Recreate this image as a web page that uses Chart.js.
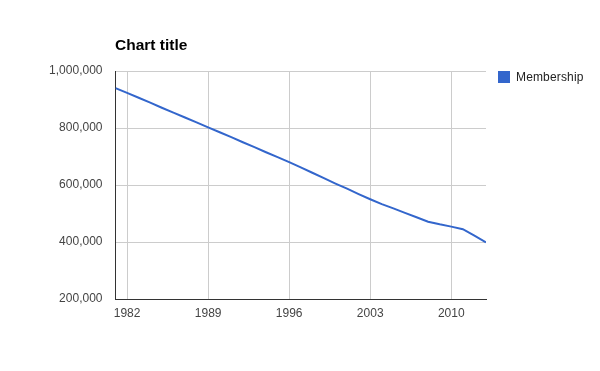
<!DOCTYPE html>
<html>
<head>
<meta charset="utf-8">
<script src="https://cdn.jsdelivr.net/npm/chart.js@4/dist/chart.umd.min.js"></script>
<style>
  body { margin: 0; background: #fff; }
  #wrap { position: relative; width: 600px; height: 371px; font-family: "Liberation Sans", Arial, sans-serif; }
  #title { position: absolute; left: 115px; top: 36px; font-size: 15.5px; font-weight: bold; color: #000; }
  #legend { position: absolute; left: 498px; top: 70px; font-size: 12px; color: #222; letter-spacing: 0.15px; }
  #legend span.box { display: inline-block; width: 12px; height: 12px; background: #3366cc; vertical-align: top; margin-top: 1px; margin-right: 6px; }
  canvas { position: absolute; left: 0; top: 0; }
</style>
</head>
<body>
<div id="wrap">
  <canvas id="chart" width="600" height="371"></canvas>
  <div id="title">Chart title</div>
  <div id="legend"><span class="box"></span>Membership</div>
</div>
<script>
const years = [1981, 1982, 1983, 1984, 1985, 1986, 1987, 1988, 1989, 1990, 1991,
    1992, 1993, 1994, 1995, 1996, 1997, 1998, 1999, 2000, 2001, 2002,
    2003, 2004, 2005, 2006, 2007, 2008, 2009, 2010, 2011, 2012, 2013];
const membership = [940000, 923000, 906000, 889000, 871000, 854000, 837000, 820000, 802000, 785000, 768000,
    750000, 733000, 715000, 698000, 680000, 662000, 643000, 624000, 605000, 587000, 568000,
    550000, 533000, 518000, 502000, 487000, 471000, 462000, 454000, 445000, 422000, 399000];
const xTicks = [1982, 1989, 1996, 2003, 2010];
const yTicks = [200000, 400000, 600000, 800000, 1000000];

const ctx = document.getElementById('chart').getContext('2d');
new Chart(ctx, {
    type: 'line',
    data: {
        datasets: [{
            label: 'Membership',
            data: years.map((y, i) => ({ x: y, y: membership[i] })),
            borderColor: '#3366cc',
            borderWidth: 2,
            pointRadius: 0,
            tension: 0,
            fill: false
        }]
    },
    options: {
        responsive: false,
        animation: false,
        layout: { padding: { left: 0, top: 71, right: 114, bottom: 0 } },
        plugins: {
            legend: { display: false },
            title: { display: false },
            tooltip: { enabled: false }
        },
        scales: {
            x: {
                type: 'linear',
                min: 1981,
                max: 2013,
                afterBuildTicks: (scale) => { scale.ticks = xTicks.map(v => ({ value: v })); },
                afterFit: (scale) => { scale.height = 72; },
                grid: { color: '#cccccc', drawTicks: false },
                border: { color: '#333333', width: 1 },
                ticks: {
                    padding: 7,
                    maxRotation: 0,
                    autoSkip: false,
                    color: '#444444',
                    font: { family: '"Liberation Sans", Arial, sans-serif', size: 12 },
                    callback: (v) => String(v)
                }
            },
            y: {
                min: 200000,
                max: 1000000,
                afterBuildTicks: (scale) => { scale.ticks = yTicks.map(v => ({ value: v })); },
                afterFit: (scale) => { scale.width = 115.5; },
                grid: { color: '#cccccc', drawTicks: false },
                border: { color: '#333333', width: 1 },
                ticks: {
                    padding: 13,
                    color: '#444444',
                    font: { family: '"Liberation Sans", Arial, sans-serif', size: 12 },
                    callback: (v) => v.toLocaleString('en-US')
                }
            }
        }
    }
});
</script>
</body>
</html>
